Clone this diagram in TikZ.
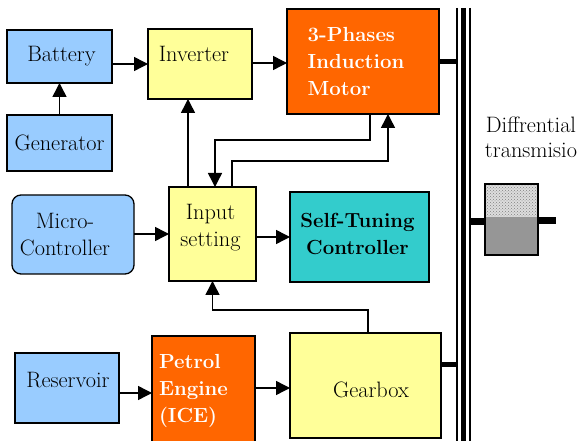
\documentclass[tikz,border=0pt]{standalone}
\usetikzlibrary{arrows.meta,patterns}
\definecolor{cblue}{HTML}{99CCFF}
\definecolor{cyel}{HTML}{FFFF99}
\definecolor{corange}{HTML}{FF6600}
\definecolor{cteal}{HTML}{33CCCC}
\definecolor{cgray}{HTML}{969696}
\definecolor{clgray}{HTML}{DDDDDD}
\tikzset{
  box/.style={draw=black, line width=1.3pt, inner sep=0pt, outer sep=0pt},
  txt/.style={font=\rmfamily\fontsize{22.3}{27}\selectfont, align=center, inner sep=0pt},
  btxt/.style={font=\rmfamily\fontsize{20.4}{27}\selectfont\bfseries, align=left, inner sep=0pt},
  arr/.style={line width=1.5pt, -{Triangle[length=14pt,width=14pt]}},
  shaft/.style={line width=5pt},
}
\begin{document}
\begin{tikzpicture}[x=1pt,y=-1pt]
\useasboundingbox (0,0) rectangle (582,441);
% boxes
\node[box, fill=cblue, minimum width=105, minimum height=53,
  label={[txt, xshift=2pt]center:Battery}] (bat) at (59.5,56.5) {};
\node[box, fill=cblue, minimum width=105, minimum height=56,
  label={[txt]center:Generator}] (gen) at (59.5,143) {};
\node[box, fill=cyel, minimum width=104, minimum height=70,
  label={[txt, xshift=-6pt, yshift=10pt]center:Inverter}] (inv) at (200,64) {};
\node[box, fill=corange, minimum width=152, minimum height=105,
  label={[btxt, text=white, xshift=-7pt]center:3-Phases\\Induction\\Motor}] (mot) at (363,61.5) {};
\node[box, fill=cyel, minimum width=87, minimum height=94,
  label={[txt, xshift=-2pt, yshift=6pt]center:Input\\setting}] (inp) at (212.5,234) {};
\node[box, fill=cblue, rounded corners=9pt, minimum width=122, minimum height=79,
  label={[txt, xshift=-8pt]center:Micro-\\Controller}] (mic) at (73,234.5) {};
\node[box, fill=cteal, minimum width=139, minimum height=90,
  label={[btxt, align=center, xshift=-2pt, yshift=3pt]center:Self-Tuning\\Controller}] (stc) at (359.5,237) {};
\node[box, fill=cblue, minimum width=104, minimum height=70,
  label={[txt, xshift=1pt, yshift=8pt]center:Reservoir}] (res) at (67,388) {};
\node[box, fill=corange, minimum width=103, minimum height=110,
  label={[btxt, text=white, xshift=-10pt, yshift=0pt]center:Petrol\\Engine\\(ICE)}] (pet) at (203.5,391) {};
\node[box, fill=cyel, minimum width=151, minimum height=105,
  label={[txt, xshift=5.5pt, yshift=-4pt]center:Gearbox}] (gea) at (365.5,385.5) {};
% bus bars
\coordinate (bus) at (456,0);
\draw[line width=2.5pt] (457,8) -- (457,445);
\draw[line width=5pt] (463.5,8) -- (463.5,445);
\draw[line width=2.5pt] (470,8) -- (470,445);
% connections to bus
\draw[shaft] (mot.east) -- (mot.east -| bus);
\draw[shaft] ([yshift=21pt]gea.east) -- ([yshift=21pt]gea.east -| bus);
% differential
\node[box, draw=black, line width=1.3pt, fill=cgray, minimum width=53, minimum height=71] (dif) at (511.5,219.5) {};
\fill[clgray] ([shift={(0.7pt,-0.7pt)}]dif.north west) rectangle ([shift={(-0.7pt,-33pt)}]dif.north east);
\fill[pattern=crosshatch dots, pattern color=gray] ([shift={(0.7pt,-0.7pt)}]dif.north west) rectangle ([shift={(-0.7pt,-33pt)}]dif.north east);
\draw[line width=1.3pt] (dif.north west) rectangle (dif.south east);
\draw[line width=7pt] (469,221.5) -- ([yshift=-2pt]dif.west);
\draw[line width=7pt] ([yshift=-1pt]dif.east) -- (556,220.5);
\node[txt, font=\rmfamily\fontsize{22.3}{25}\selectfont] (dtx) at (531,137) {Diffrential\\transmisio};
% arrows
\draw[arr] (gen.north) -- (bat.south);
\draw[arr] (bat.east |- inv.west) -- (inv.west);
\draw[arr] (inv.east |- 0,63) -- (mot.west |- 0,63);
\draw[arr] ([xshift=-24.5pt]inp.north) -- ([xshift=-24.5pt]inp.north |- inv.south);
\draw[arr] ([xshift=7pt]mot.south) -- ++(0,26) -| ([xshift=2.5pt]inp.north);
\draw[arr] ([xshift=19.5pt]inp.north) -- ++(0,-26) -| ([xshift=25pt]mot.south);
\draw[arr] (mic.east |- inp.west) -- (inp.west);
\draw[arr] (inp.east |- stc.west) -- (stc.west);
\draw[arr] ([xshift=2.5pt]gea.north) -- ++(0,-23) -| (inp.south);
\draw[arr] ([yshift=-5pt]res.east) -- ([yshift=-5pt]res.east -| pet.west);
\draw[arr] ([yshift=3pt]pet.east) -- ([yshift=3pt]pet.east -| gea.west);
\end{tikzpicture}
\end{document}
